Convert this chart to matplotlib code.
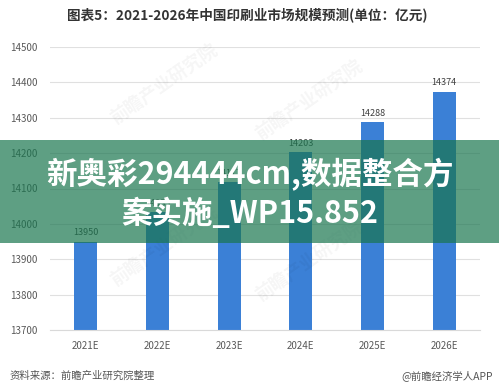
import numpy as np
import matplotlib.pyplot as plt

plt.rcParams['font.family'] = ['Noto Sans CJK SC', 'DejaVu Sans']

# data
years = ['2021E', '2022E', '2023E', '2024E', '2025E', '2026E']
market_size = [13950, 14033, 14117, 14203, 14288, 14374]
y_ticks = [13700, 13800, 13900, 14000, 14100, 14200, 14300, 14400, 14500]

title = '图表5：2021-2026年中国印刷业市场规模预测(单位：亿元)'
banner = '新奥彩294444cm,数据整合方\n案实施_WP15.852'
source = '资料来源：前瞻产业研究院整理'
brand = '@前瞻经济学人APP'

fig = plt.figure(figsize=(4.99, 3.85), dpi=100)
ax = fig.add_axes([50 / 499, 55 / 385, 430 / 499, 283 / 385])

x = np.arange(len(years))
bars = ax.bar(x, market_size, width=0.32, color='#3b80d6', zorder=2)
for xi, v in zip(x, market_size):
    ax.text(xi, v + 12, str(v), ha='center', va='bottom', fontsize=6.5,
            color='#404040', zorder=3)

ax.set_xlim(-0.5, len(years) - 0.5)
ax.set_ylim(13700, 14500)
ax.set_yticks(y_ticks)
ax.set_xticks(x)
ax.set_xticklabels(years)
ax.grid(axis='y', color='#e0e0e0', linewidth=0.8, zorder=0)
for s in ['left', 'right', 'top']:
    ax.spines[s].set_visible(False)
ax.spines['bottom'].set_color('#d9d9d9')
ax.tick_params(axis='both', length=0, labelsize=7, colors='#595959')
ax.tick_params(axis='y', pad=9)
ax.tick_params(axis='x', pad=8)

# faint watermarks
for wx, wy in [(0.33, 0.78), (0.62, 0.74), (0.33, 0.36), (0.62, 0.32)]:
    fig.text(wx, wy, '前瞻产业研究院', fontsize=13, color='#000000', alpha=0.04,
             rotation=35, ha='center', va='center', fontweight='bold')

fig.text(0.495, 1 - 15 / 385, title, ha='center', va='center', fontsize=9.8,
         fontweight='bold', color='#333333')
fig.text(10 / 499, 1 - 376 / 385, source, ha='left', va='center', fontsize=7.5,
         color='#555555')
fig.text(493 / 499, 1 - 376 / 385, brand, ha='right', va='center', fontsize=7.5,
         color='#555555')

# green overlay band with headline
band = plt.Rectangle((0, 1 - 243 / 385), 1, 103 / 385, transform=fig.transFigure,
                     facecolor='#1a764f', alpha=0.7, zorder=10)
fig.patches.append(band)
fig.text(0.5, 1 - 194 / 385, banner, ha='center', va='center', fontsize=22,
         fontweight='bold', color='white', linespacing=1.3, zorder=11)

fig.savefig('out.png', dpi=100)
